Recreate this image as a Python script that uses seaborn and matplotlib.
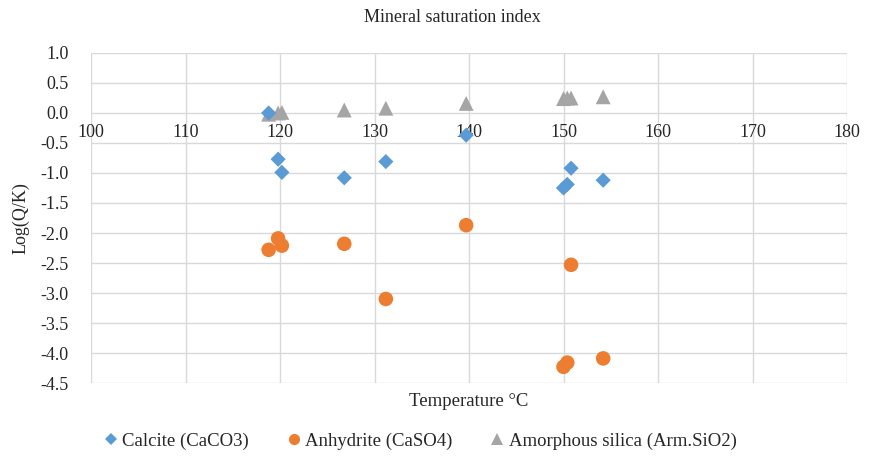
import matplotlib
matplotlib.use("Agg")
import matplotlib.pyplot as plt
from matplotlib.lines import Line2D
import seaborn as sns
import pandas as pd

temperature = [118.8, 119.8, 120.2, 126.8, 131.2, 139.7, 150.0, 150.4, 150.8, 154.2]
calcite = [0.0, -0.77, -0.99, -1.08, -0.81, -0.37, -1.25, -1.19, -0.92, -1.12]
anhydrite = [-2.28, -2.09, -2.21, -2.18, -3.10, -1.87, -4.23, -4.16, -2.53, -4.09]
silica = [-0.02, 0.0, 0.01, 0.05, 0.08, 0.16, 0.24, 0.25, 0.25, 0.27]
series_names = ["Calcite (CaCO3)", "Anhydrite (CaSO4)", "Amorphous silica (Arm.SiO2)"]
x_ticks = [100, 110, 120, 130, 140, 150, 160, 170, 180]
y_ticks = [1.0, 0.5, 0.0, -0.5, -1.0, -1.5, -2.0, -2.5, -3.0, -3.5, -4.0, -4.5]

colors = ["#5B9BD5", "#ED7D31", "#A5A5A5"]
markers = ["D", "o", "^"]
sizes = [60, 110, 115]

sns.set_theme(style="white")
plt.rcParams["font.family"] = ["Liberation Serif", "DejaVu Serif"]

fig = plt.figure(figsize=(8.69, 4.65), dpi=100)
ax = fig.add_axes([91/869, 1-383/465, (847-91)/869, (383-53)/465])

order = [2, 0, 1]
values = [calcite, anhydrite, silica]
for i in order:
    df = pd.DataFrame({"Temperature": temperature, "LogQK": values[i]})
    sns.scatterplot(data=df, x="Temperature", y="LogQK", ax=ax, color=colors[i],
                    marker=markers[i], s=sizes[i], edgecolor="none", legend=False,
                    zorder=3)

ax.set_xlim(100, 180)
ax.set_ylim(-4.5, 1.0)
ax.set_xticks(x_ticks)
ax.set_yticks(y_ticks)
ax.set_yticklabels([f"{v:.1f}" for v in y_ticks])
ax.grid(True, color="#D9D9D9", linewidth=1.0, zorder=0)
ax.set_axisbelow(True)
for sp in ["top", "right", "left"]:
    ax.spines[sp].set_visible(False)
ax.spines["bottom"].set_position(("data", 0))
ax.spines["bottom"].set_visible(False)
ax.tick_params(axis="both", length=0, labelsize=13)
ax.tick_params(axis="y", pad=16)
ax.tick_params(axis="x", pad=8)
ax.set_xlabel("")
ax.set_ylabel("Log(Q/K)", fontsize=13, labelpad=8)

fig.text(452/869, 1-18/465, "Mineral saturation index", ha="center", va="center", fontsize=13)
fig.text(469/869, 1-401/465, "Temperature °C", ha="center", va="center", fontsize=13.5)

handles = [Line2D([], [], linestyle="none", marker=markers[i], color=colors[i],
                  markersize=[6, 8, 8][i], markeredgewidth=0) for i in range(3)]
fig.legend(handles, series_names, loc="center", bbox_to_anchor=(419/869, 1-441/465),
           ncol=3, frameon=False, fontsize=13.5, handletextpad=0.1, columnspacing=1.9,
           handlelength=1.0)

fig.savefig("out.png", dpi=100)
